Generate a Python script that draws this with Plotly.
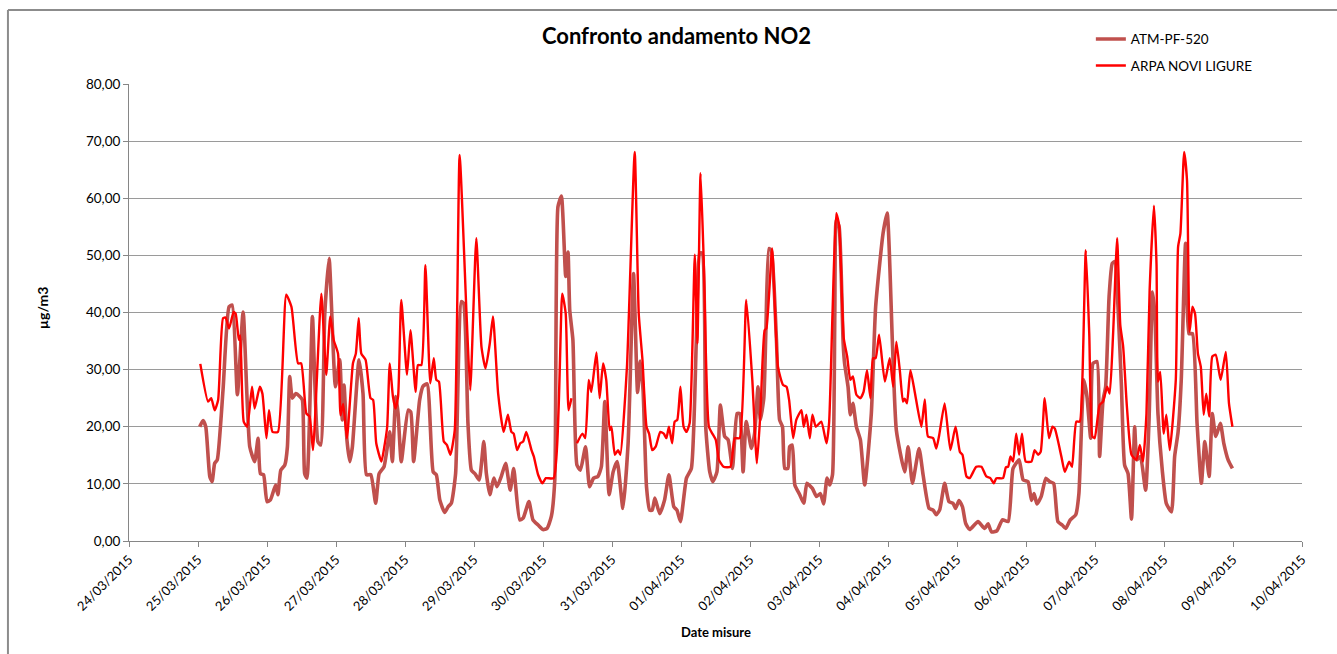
import pandas as pd
import plotly.graph_objects as go

# hours from 25/03/2015 00:00, values in µg/m3
atm_hours = [0.6, 1.75, 2.7, 4.1, 4.9, 5.8, 6.7, 8.7, 10.8, 11.9, 13.7, 15.7, 18.0, 19.7, 20.9, 21.7, 22.8,
             24.0, 25.2, 27.0, 27.8, 28.8, 30.2, 31.1, 31.9, 32.8, 34.0, 35.4, 36.3, 37.1, 37.9, 39.8, 41.7,
             42.7, 44.1, 45.6, 47.8,
             49.3, 50.2, 50.8, 51.8, 52.8, 53.7, 56.0, 57.4, 58.6, 60.1, 61.8, 63.0, 64.7, 66.7, 67.6, 68.8,
             69.6, 70.7, 73.1, 74.0, 75.0, 77.1, 78.3, 79.7, 81.8, 82.9, 84.1, 85.8, 87.0, 88.1, 89.6, 91.6,
             92.4, 93.9, 95.1, 96.3, 97.8, 99.4, 100.3, 101.5,
             102.9, 104.0, 105.5, 107.0, 108.6, 109.8, 111.9, 113.1, 115.1, 116.5, 118.3, 120.0, 121.4, 122.9,
             124.1, 125.2, 126.4, 127.9, 128.7, 129.3, 130.4, 131.8, 133.0, 134.8, 136.2, 137.6, 139.1, 140.3,
             141.5, 143.0, 144.4, 145.8, 147.8, 149.6, 151.5, 152.9, 153.8, 154.8,
             156.0, 157.1, 158.0, 158.9, 160.6, 162.3, 163.8, 165.5, 166.6, 167.8, 169.9, 171.6, 173.3, 174.5,
             175.4, 176.6, 178.0, 179.1, 180.5, 181.7, 183.2, 184.4, 185.9, 187.5, 188.4, 189.6, 190.7, 192.5,
             193.6, 194.8, 195.6, 196.8, 197.5, 198.6, 199.4, 201.2, 202.3, 203.3, 204.1, 205.2,
             205.8, 206.7, 207.6, 209.3, 210.7, 211.8, 213.7, 215.1, 216.5, 217.6, 218.8, 219.7, 220.7, 221.5,
             222.0, 223.0, 224.4, 224.9, 226.1, 226.9, 227.8, 229.0, 230.4, 231.9, 234.2, 235.7, 238.3, 239.7,
             241.5, 242.9, 245.8, 247.0, 248.5, 250.8, 252.2, 254.3, 255.7, 256.8, 258.0,
             259.7, 261.2, 262.6, 263.5, 264.7, 265.9, 267.0, 268.4, 271.3, 273.6, 274.8, 276.0, 277.9, 279.8,
             281.8, 283.5, 285.6, 287.0, 288.7, 289.9, 290.8, 291.8, 293.3, 294.9, 296.2, 297.6, 299.1, 300.6,
             301.8, 303.4, 305.3, 306.4, 308.1, 309.2, 310.5,
             311.3, 312.7, 313.6, 314.8, 315.7, 316.9, 318.0, 318.9, 320.0, 321.2, 322.3, 323.5, 324.7, 325.8,
             326.6, 327.8, 329.6, 330.8, 332.0, 332.8, 333.9, 335.4, 336.8, 338.6, 339.7, 340.9, 342.0, 343.5,
             344.7, 345.9, 347.5, 349.0, 350.2, 351.7, 352.8, 354.0, 355.6, 356.8, 358.3, 359.8]
atm_values = [20.0, 21.1, 20.0, 11.3, 10.4, 13.6, 14.2, 26.4, 41.0, 41.3, 25.6, 40.1, 16.5, 13.9, 18.0, 11.8, 11.6,
              6.9, 7.2, 9.8, 8.1, 12.4, 13.3, 16.5, 28.8, 25.0, 25.8, 25.3, 24.7, 11.8, 11.0, 39.3, 17.4,
              16.8, 39.8, 49.5, 27.0,
              31.7, 21.2, 27.3, 17.7, 13.9, 16.5, 31.7, 25.8, 11.6, 11.6, 6.6, 11.8, 13.0, 19.1, 13.9, 25.3,
              22.3, 13.9, 22.9, 22.6, 13.9, 24.7, 27.1, 27.5, 12.1, 11.6, 7.2, 5.0, 6.0, 6.6, 11.8, 41.9,
              41.6, 20.6, 12.4, 11.8, 10.7, 17.4, 11.8, 8.1,
              11.0, 9.5, 11.3, 13.6, 8.9, 12.7, 3.7, 4.0, 6.9, 3.7, 2.8, 2.0, 2.2, 4.3,
              10.7, 58.5, 60.4, 46.3, 50.6, 40.4, 35.2, 13.3, 12.4, 16.5, 9.5, 11.0, 11.3, 13.0,
              24.4, 8.1, 12.1, 13.9, 5.7, 17.1, 46.8, 26.0, 31.5, 26.4,
              9.5, 5.4, 5.4, 7.5, 4.8, 7.2, 11.6, 6.0, 5.4, 3.4, 11.0, 12.7, 34.6, 50.4,
              50.4, 20.0, 12.1, 10.4, 12.1, 23.8, 18.3, 17.7, 12.7, 22.3, 22.3, 12.1, 20.9, 16.2,
              18.8, 27.0, 21.2, 25.0, 36.3, 51.2, 50.9, 35.2, 21.2, 20.0, 12.7, 12.7,
              16.5, 16.8, 9.8, 8.1, 6.6, 10.1, 9.2, 7.8, 8.3, 6.5, 11.0, 9.8, 11.6, 39.8,
              56.2, 55.0, 34.6, 31.1, 27.0, 22.1, 24.1, 20.0, 17.7, 9.8, 22.3, 41.0, 53.9, 57.4,
              35.2, 19.4, 12.1, 16.5, 10.1, 16.2, 11.6, 5.7, 5.4, 4.6, 5.5,
              10.1, 6.9, 6.6, 5.7, 7.1, 6.0, 3.1, 2.0, 3.4, 2.2, 3.0, 1.6, 1.8, 3.7,
              3.4, 12.7, 14.2, 10.7, 10.4, 7.1, 8.3, 6.5, 7.8, 11.0, 10.4, 10.1, 3.4, 2.8,
              2.2, 3.7, 4.6, 8.3, 28.2, 25.3, 18.0,
              31.1, 31.4, 14.8, 24.7, 27.0, 42.8, 48.6, 48.9, 41.0, 27.0, 13.3, 11.8, 3.8, 20.0,
              14.2, 14.8, 8.9, 21.2, 43.6, 39.8, 22.3, 12.4, 6.6, 5.1, 14.8, 19.1, 28.2, 52.1,
              36.3, 36.3, 20.6, 10.1, 17.4, 11.3, 22.3, 18.3, 20.6, 17.1, 14.2, 12.7]

arpa_hours = [0.8, 3.5, 4.6, 5.8, 7.0, 8.7, 9.6, 10.8, 12.4, 13.1, 14.2, 14.7, 15.9, 17.1, 18.8, 19.7, 21.5,
              22.4, 23.8, 24.7, 25.9, 27.8, 30.7, 32.5, 34.8, 35.9, 37.7, 38.8, 40.0, 42.9, 44.6, 46.0, 47.2,
              48.7,
              49.6, 50.5, 51.8, 53.9, 54.9, 55.9, 56.8, 58.3, 60.0, 60.9, 62.0, 63.8, 65.0, 65.8, 66.7, 67.8,
              68.7, 69.6, 70.7, 72.7, 73.9, 75.7, 76.5, 77.7, 79.1, 80.8, 82.0, 82.9, 83.8, 85.5, 86.6, 87.8,
              89.3, 91.0, 93.4, 94.7, 96.8, 98.6, 100.0, 101.5,
              102.6, 104.4, 106.3, 107.8, 109.0, 109.8, 111.0, 112.1, 113.1, 114.2, 116.0, 116.8, 118.3, 119.8,
              121.0, 123.7, 126.7, 127.9, 128.9, 129.9, 130.8, 131.8, 133.7, 134.7, 135.9, 136.8, 138.6, 139.7,
              140.9, 142.0, 143.2, 143.8, 145.0, 146.1, 146.9, 149.2, 151.9, 153.3,
              154.6, 156.0, 156.9, 158.0, 159.2, 160.8, 162.0, 162.9, 163.8, 164.9, 165.8, 166.7, 167.8, 168.9,
              169.9, 171.0, 172.8, 173.7, 174.8, 175.9, 177.7, 178.9, 180.1, 181.2, 182.8, 185.2, 186.7, 188.4,
              190.7, 192.8, 194.4, 195.6, 197.1, 197.7, 199.7, 201.7, 203.5, 204.7, 205.6,
              207.0, 208.1, 209.9, 210.7, 211.6, 212.8, 213.7, 214.9, 216.8, 218.6, 219.5, 220.7, 222.0, 223.0,
              224.6, 225.8, 226.9, 227.8, 229.0, 230.4, 231.5, 232.7, 233.9, 234.8, 235.7, 236.9, 238.9, 240.6,
              241.8, 242.9, 244.1, 245.2, 245.8, 246.6, 247.8, 249.3, 251.6, 252.8, 253.9, 255.7, 256.8, 257.8,
              259.7, 261.7, 263.5, 265.0, 265.9, 267.3, 268.4, 270.7, 272.5, 274.2, 275.6, 276.8, 277.7, 280.0,
              281.0, 281.8, 282.6, 283.5, 284.6, 285.6, 286.6, 287.9, 289.9, 291.0, 292.2, 293.1, 294.5, 296.0,
              297.2, 298.0, 300.3, 301.5, 303.0, 304.0, 305.5, 306.7, 307.6, 308.8, 310.0,
              311.1, 311.9, 313.6, 314.8, 316.2, 317.1, 318.3, 319.7, 320.8, 321.8, 323.1, 324.7, 326.4, 327.6,
              328.7, 329.9, 331.0, 332.5, 333.4, 333.9, 334.7, 335.9, 336.8, 338.0, 340.1, 340.9, 341.7, 343.0,
              344.0, 344.9, 345.9, 346.8, 347.8, 348.8, 349.8, 350.7, 351.7, 352.8, 354.0, 355.7, 357.5, 358.6,
              359.8]
arpa_values = [31.0, 24.4, 25.0, 22.9, 24.7, 39.0, 39.1, 37.2, 40.1, 39.8, 35.2, 36.0, 20.9, 20.0, 27.0, 23.2, 27.0,
               25.8, 18.0, 22.9, 19.1, 19.1, 43.1, 41.0, 31.1, 31.1, 22.3, 21.8, 15.9, 43.3, 29.1, 39.3, 35.2,
               32.8,
               22.0, 24.0, 18.0, 31.1, 32.8, 39.0, 32.8, 31.7, 25.0, 24.7, 17.1, 13.9, 17.1, 20.0, 31.1, 25.3,
               23.2, 25.3, 42.2, 29.1, 36.9, 26.1, 30.8, 30.8, 48.3, 27.6, 32.0, 28.2, 27.9, 17.4, 16.8, 15.1,
               19.4, 67.6, 39.8, 26.4, 53.0, 34.0, 30.2, 34.6,
               39.3, 25.8, 19.1, 22.1, 19.1, 18.8, 15.9, 17.1, 17.4, 19.1, 15.9, 14.8, 11.6, 10.1,
               11.0, 11.0, 43.3, 39.8, 22.9, 25.0, None, 17.1, 18.8, 18.0, 28.2, 26.1, 33.0, 25.0,
               31.1, 28.2, 19.4, 20.0, 15.1, 15.9, 15.1, 30.5, 68.1, 39.8,
               31.7, 20.0, 18.8, 15.9, 16.5, 19.1, 18.8, 18.0, 20.0, 17.1, 20.9, 21.2, 27.0, 20.0,
               19.1, 20.6, 50.1, 34.6, 64.4, 49.2, 20.0, 18.8, 17.7, 14.2, 13.0, 13.0, 18.0, 18.0,
               42.2, 28.2, 13.6, 22.3, 36.9, 37.2, 51.2, 30.5, 27.3, 27.0, 24.7,
               18.0, 21.2, 22.9, 20.0, 22.1, 18.0, 22.1, 20.0, 20.9, 17.1, 20.6, 39.8, 57.4, 55.3,
               35.5, 32.3, 28.2, 28.8, 25.6, 25.0, 26.1, 29.9, 25.0, 32.0, 32.0, 36.1, 27.9, 32.0,
               27.0, 34.9, 29.9, 24.4, 24.9, 24.1, 29.9, 26.1, 20.0, 24.8, 18.3, 18.0, 16.2, 18.5,
               24.1, 15.9, 20.0, 15.6, 15.1, 11.3, 11.0, 13.0, 13.0, 11.3, 11.0, 10.1, 11.0, 11.0,
               12.9, 13.0, 14.8, 13.9, 18.8, 15.1, 18.8, 13.9, 13.9, 15.9, 15.1, 15.6, 25.0, 18.0,
               20.0, 19.7, 14.8, 12.1, 13.9, 13.0, 20.9, 20.9, 28.2, 50.9, 36.3,
               18.3, 18.0, 23.8, 24.4, 27.0, 25.8, 36.3, 53.0, 37.8, 34.0, 23.5, 15.1, 14.2, 16.8,
               13.9, 22.3, 43.9, 58.7, 48.4, 27.9, 29.6, 18.8, 22.1, 15.9, 28.2, 51.5, 53.8, 68.1,
               63.2, 36.6, 41.0, 39.8, 32.8, 30.5, 22.1, 25.8, 21.8, 32.3, 32.6, 28.2, 33.1, 24.1,
               20.0]

start = pd.Timestamp("2015-03-25 00:00")
atm_x = start + pd.to_timedelta(atm_hours, unit="h")
arpa_x = start + pd.to_timedelta(arpa_hours, unit="h")

font = "Lato, Carlito, Calibri, sans-serif"

fig = go.Figure()
fig.add_trace(go.Scatter(x=atm_x, y=atm_values, mode="lines", name="ATM-PF-520",
                         legendgroup="a", line=dict(color="#C0504D", width=3.6, shape="spline", smoothing=0.5)))
fig.add_trace(go.Scatter(x=arpa_x, y=arpa_values, mode="lines", name="ARPA NOVI LIGURE",
                         legendgroup="b", connectgaps=False,
                         line=dict(color="#FF0000", width=2.4, shape="spline", smoothing=0.5)))

fig.update_layout(
    width=1337, height=654,
    margin=dict(l=129, r=35, t=84, b=113),
    paper_bgcolor="white", plot_bgcolor="white",
    separators=",.",
    font=dict(family=font, size=13, color="#000000"),
    title=dict(text="<b>Confronto andamento NO2</b>", x=0.506, xanchor="center", y=0.945, yanchor="middle",
               font=dict(size=22, family=font)),
    legend=dict(x=0.82, y=1.132, xanchor="left", yanchor="top", traceorder="grouped", tracegroupgap=6,
                font=dict(size=13.5, family=font), bgcolor="rgba(0,0,0,0)"),
    showlegend=True,
)
fig.update_xaxes(
    range=["2015-03-24", "2015-04-10"], tickmode="linear", tick0="2015-03-24", dtick=86400000,
    tickformat="%d/%m/%Y", tickangle=-45, ticks="outside", ticklen=5, tickcolor="#868686",
    showline=True, linecolor="#868686", linewidth=1, showgrid=False, zeroline=False,
    tickfont=dict(size=13, family=font),
)
fig.update_yaxes(
    range=[0, 80], dtick=10, tickformat=".2f", ticks="outside", ticklen=5, tickcolor="#868686",
    showline=True, linecolor="#868686", linewidth=1, showgrid=True, gridcolor="#9a9a9a", gridwidth=1,
    zeroline=False, tickfont=dict(size=13.5, family=font),
)
fig.add_annotation(text="<b>µg/m3</b>", x=-0.082, y=0.51, xref="paper", yref="paper", textangle=-90,
                   showarrow=False, font=dict(size=14, family=font))
fig.add_annotation(text="<b>Date misure</b>", x=0.5, y=-0.222, xref="paper", yref="paper",
                   showarrow=False, font=dict(size=13, family=font))
# chart area frame (top and left edges visible)
fig.add_shape(type="line", xref="paper", yref="paper", x0=-0.1032, x1=-0.1032, y0=-0.25, y1=1.162,
              line=dict(color="#8c8c8c", width=2))
fig.add_shape(type="line", xref="paper", yref="paper", x0=-0.1032, x1=1.03, y0=1.162, y1=1.162,
              line=dict(color="#8c8c8c", width=2))

fig.write_html("out.html", config={"displayModeBar": False},
               post_script="document.body.style.margin='0';document.body.style.overflow='hidden';")
